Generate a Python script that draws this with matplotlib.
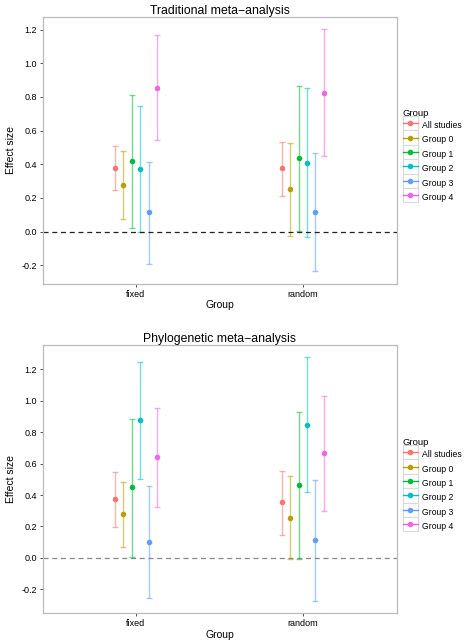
import numpy as np
import matplotlib.pyplot as plt
from matplotlib.lines import Line2D
from matplotlib.patches import Rectangle
from matplotlib.legend_handler import HandlerLine2D

groups = ['All studies', 'Group 0', 'Group 1', 'Group 2', 'Group 3', 'Group 4']
colors = ['#F8766D', '#B79F00', '#00BA38', '#00BFC4', '#619CFF', '#F564E3']
models = ['fixed', 'random']

# traditional meta-analysis: estimate, lower, upper (fixed / random)
trad_est = [[0.376, 0.279, 0.417, 0.370, 0.117, 0.854],
            [0.376, 0.255, 0.437, 0.407, 0.117, 0.826]]
trad_lo = [[0.247, 0.073, 0.024, -0.004, -0.190, 0.544],
           [0.214, -0.024, 0.006, -0.032, -0.233, 0.449]]
trad_hi = [[0.506, 0.480, 0.813, 0.745, 0.413, 1.168],
           [0.534, 0.528, 0.866, 0.852, 0.467, 1.206]]

# phylogenetic meta-analysis
phy_est = [[0.372, 0.281, 0.451, 0.876, 0.102, 0.639],
           [0.353, 0.256, 0.461, 0.847, 0.116, 0.667]]
phy_lo = [[0.199, 0.072, 0.006, 0.502, -0.252, 0.326],
          [0.144, -0.004, -0.004, 0.421, -0.273, 0.298]]
phy_hi = [[0.548, 0.483, 0.883, 1.247, 0.459, 0.952],
          [0.552, 0.519, 0.925, 1.274, 0.497, 1.026]]

plt.rcParams['font.family'] = ['Liberation Sans', 'DejaVu Sans']


class BoxedKey(HandlerLine2D):
    # legend key drawn inside a light grey square, like ggplot
    def create_artists(self, legend, orig_handle, xdescent, ydescent,
                       width, height, fontsize, trans):
        arts = super().create_artists(legend, orig_handle, xdescent, ydescent,
                                      width, height, fontsize, trans)
        # centre the square on the key line
        box = Rectangle((-xdescent, -ydescent / 2), width, height, transform=trans,
                        facecolor='white', edgecolor='#d9d9d9', lw=0.8)
        return [box] + list(arts)


fig = plt.figure(figsize=(4.68, 6.42), dpi=100)
ax1 = fig.add_axes([0.092, 0.558, 0.756, 0.416])
ax2 = fig.add_axes([0.092, 0.045, 0.756, 0.417])


def panel(ax, title, est, lo, hi, ylim, zcol, legy):
    for m in range(len(models)):
        for i in range(len(groups)):
            x = m + 1 + (i - 2.5) * 0.05
            e = est[m][i]
            ax.errorbar(x, e, yerr=[[e - lo[m][i]], [hi[m][i] - e]], fmt='none',
                        ecolor=colors[i], alpha=0.55, elinewidth=1.0,
                        capsize=2.5, capthick=1.0)
            ax.plot(x, e, 'o', color=colors[i], ms=4.0, mec='none')
    ax.axhline(0, color=zcol, ls=(0, (4, 3)), lw=0.9)
    ax.set_xlim(0.443, 2.563)
    ax.set_ylim(*ylim)
    ax.set_xticks([1, 2])
    ax.set_xticklabels(models)
    ax.set_yticks(np.arange(-0.2, 1.21, 0.2))
    ax.set_yticklabels(['%.1f' % v for v in np.arange(-0.2, 1.21, 0.2)])
    ax.tick_params(labelsize=6.5, length=2.5, width=0.6, color='#333333', pad=2)
    for s in ax.spines.values():
        s.set_color('#bbbbbb')
        s.set_linewidth(0.9)
    ax.set_title(title, fontsize=8.8, pad=2)
    ax.set_xlabel('Group', fontsize=7.5, labelpad=1)
    ax.set_ylabel('Effect size', fontsize=7.5, labelpad=4)
    handles = [Line2D([0], [0], color=colors[i], marker='o', ms=4, mec='none', lw=1.0)
               for i in range(len(groups))]
    leg = ax.legend(handles, groups, title='Group', loc='center left',
                    bbox_to_anchor=(1.0, legy), frameon=False, fontsize=6.2,
                    title_fontsize=6.8, handlelength=1.75, handleheight=2.2,
                    labelspacing=0.0, handletextpad=0.5, borderaxespad=0.3,
                    handler_map={Line2D: BoxedKey()})
    leg._legend_box.align = 'left'


panel(ax1, 'Traditional meta\u2212analysis', trad_est, trad_lo, trad_hi,
      (-0.31, 1.277), '#222222', 0.475)
panel(ax2, 'Phylogenetic meta\u2212analysis', phy_est, phy_lo, phy_hi,
      (-0.35, 1.35), '#888888', 0.475)

fig.savefig('out.png', dpi=100)
